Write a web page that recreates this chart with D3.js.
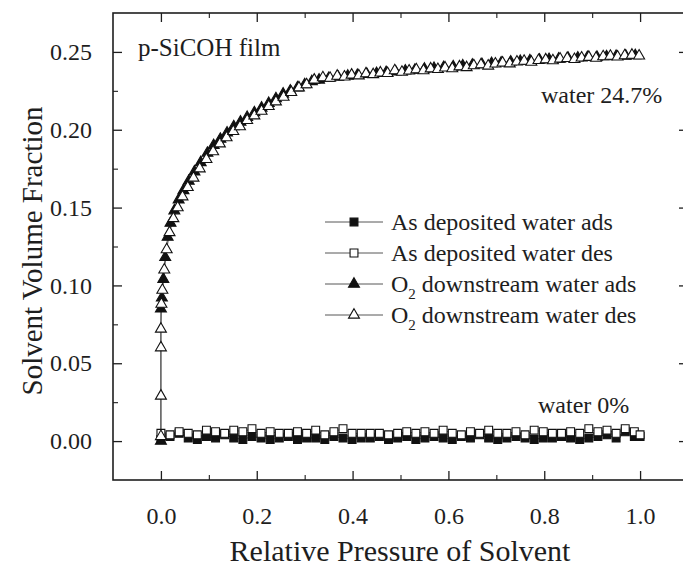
<!DOCTYPE html>
<html>
<head>
<meta charset="utf-8">
<script src="https://cdn.jsdelivr.net/npm/d3@7"></script>
<style>
  html, body { margin: 0; padding: 0; background: #fff; }
  svg { display: block; }
  text { font-family: "Liberation Serif", "Times New Roman", serif; fill: #1e1e1e; }
</style>
</head>
<body>
<svg id="chart" width="683" height="570"></svg>
<script>
// Water uptake isotherms of a porous SiCOH film (ellipsometric porosimetry)

// O2 downstream treated film, adsorption branch
const o2AdsPressure = [0.000, 0.000, 0.002, 0.005, 0.009, 0.014, 0.020, 0.028, 0.037, 0.047,
  0.058, 0.070, 0.083, 0.097, 0.110, 0.124, 0.138, 0.152, 0.166, 0.180,
  0.195, 0.210, 0.225, 0.240, 0.255, 0.270, 0.285, 0.300, 0.315, 0.330,
  0.350, 0.370, 0.390, 0.410, 0.430, 0.450, 0.470, 0.490, 0.510, 0.530,
  0.550, 0.570, 0.590, 0.610, 0.630, 0.650, 0.670, 0.690, 0.710, 0.730,
  0.750, 0.770, 0.790, 0.810, 0.830, 0.850, 0.870, 0.890, 0.910, 0.930,
  0.950, 0.970, 0.990];
const o2AdsFraction = [0.000, 0.085, 0.092, 0.104, 0.118, 0.131, 0.140, 0.148, 0.155, 0.161,
  0.167, 0.173, 0.179, 0.185, 0.190, 0.194, 0.198, 0.202, 0.205, 0.208,
  0.211, 0.214, 0.217, 0.220, 0.223, 0.225, 0.227, 0.229, 0.231, 0.232,
  0.2330, 0.2338, 0.2345, 0.2350, 0.2356, 0.2362, 0.2368, 0.2372, 0.2378, 0.2383,
  0.2390, 0.2395, 0.2401, 0.2405, 0.2411, 0.2416, 0.2420, 0.2426, 0.2430, 0.2436,
  0.2440, 0.2444, 0.2449, 0.2452, 0.2455, 0.2459, 0.2462, 0.2465, 0.2467, 0.2470,
  0.2472, 0.2474, 0.2477];

// O2 downstream treated film, desorption branch
const o2DesPressure = [0.000, 0.000, 0.000, 0.000, 0.001, 0.003, 0.007, 0.012, 0.018, 0.026,
  0.035, 0.045, 0.056, 0.068, 0.081, 0.095, 0.109, 0.123, 0.137, 0.151,
  0.165, 0.180, 0.195, 0.210, 0.225, 0.240, 0.256, 0.272, 0.288, 0.304,
  0.320, 0.338, 0.353, 0.368, 0.383, 0.398, 0.413, 0.428, 0.443, 0.458,
  0.473, 0.488, 0.503, 0.518, 0.533, 0.548, 0.563, 0.578, 0.593, 0.608,
  0.623, 0.638, 0.653, 0.668, 0.683, 0.698, 0.713, 0.728, 0.743, 0.758,
  0.773, 0.788, 0.803, 0.818, 0.833, 0.848, 0.863, 0.878, 0.893, 0.908,
  0.923, 0.938, 0.953, 0.968, 0.983, 0.998];
const o2DesFraction = [0.003, 0.029, 0.060, 0.072, 0.088, 0.097, 0.110, 0.123, 0.134, 0.143,
  0.150, 0.157, 0.163, 0.169, 0.175, 0.181, 0.186, 0.191, 0.195, 0.199,
  0.202, 0.206, 0.209, 0.212, 0.215, 0.218, 0.221, 0.224, 0.227, 0.229,
  0.232, 0.2335, 0.2332, 0.2345, 0.2340, 0.2352, 0.2347, 0.2360, 0.2355, 0.2366,
  0.2362, 0.2380, 0.2370, 0.2378, 0.2386, 0.2380, 0.2392, 0.2388, 0.2398, 0.2393,
  0.2405, 0.2400, 0.2412, 0.2418, 0.2410, 0.2423, 0.2430, 0.2424, 0.2436, 0.2441,
  0.2435, 0.2446, 0.2450, 0.2444, 0.2455, 0.2459, 0.2452, 0.2462, 0.2466, 0.2460,
  0.2470, 0.2473, 0.2468, 0.2476, 0.2480, 0.2475];

// As deposited film, both branches share the pressure steps
const asDepPressure = [0.000, 0.019, 0.038, 0.057, 0.076, 0.095, 0.114, 0.133, 0.152, 0.171,
  0.190, 0.209, 0.228, 0.247, 0.266, 0.285, 0.304, 0.323, 0.342, 0.361,
  0.380, 0.399, 0.418, 0.437, 0.456, 0.475, 0.494, 0.513, 0.532, 0.551,
  0.570, 0.589, 0.608, 0.627, 0.646, 0.665, 0.684, 0.703, 0.722, 0.741,
  0.760, 0.779, 0.798, 0.817, 0.836, 0.855, 0.874, 0.893, 0.912, 0.931,
  0.950, 0.969, 0.988, 1.000];
const asDepAdsFraction = [0.001, 0.003, 0.005, 0.002, 0.001, 0.003, 0.002, 0.004, 0.002, 0.001,
  0.003, 0.002, 0.001, 0.002, 0.003, 0.001, 0.002, 0.002, 0.001, 0.003,
  0.002, 0.001, 0.002, 0.002, 0.003, 0.001, 0.002, 0.003, 0.001, 0.002,
  0.003, 0.002, 0.001, 0.003, 0.002, 0.004, 0.002, 0.001, 0.002, 0.003,
  0.002, 0.001, 0.002, 0.002, 0.003, 0.002, 0.001, 0.002, 0.003, 0.004,
  0.002, 0.006, 0.003, 0.003];
const asDepDesFraction = [0.005, 0.004, 0.006, 0.005, 0.004, 0.007, 0.006, 0.005, 0.007, 0.006,
  0.008, 0.005, 0.006, 0.005, 0.005, 0.006, 0.005, 0.007, 0.004, 0.006,
  0.008, 0.005, 0.005, 0.005, 0.005, 0.004, 0.005, 0.006, 0.005, 0.006,
  0.005, 0.007, 0.005, 0.004, 0.006, 0.005, 0.007, 0.005, 0.005, 0.006,
  0.004, 0.007, 0.006, 0.005, 0.005, 0.006, 0.005, 0.008, 0.006, 0.007,
  0.005, 0.008, 0.006, 0.004];

// Axis ticks
const xTicks = [0.0, 0.2, 0.4, 0.6, 0.8, 1.0];
const xMinorTicks = [0.1, 0.3, 0.5, 0.7, 0.9];
const yTicks = [0.00, 0.05, 0.10, 0.15, 0.20, 0.25];
const yMinorTicks = [0.025, 0.075, 0.125, 0.175, 0.225];

const seriesNames = ["As deposited water ads", "As deposited water des",
  "O2 downstream water ads", "O2 downstream water des"];

const series = [
  { name: seriesNames[0], x: asDepPressure, y: asDepAdsFraction, shape: "square", filled: true },
  { name: seriesNames[1], x: asDepPressure, y: asDepDesFraction, shape: "square", filled: false },
  { name: seriesNames[2], x: o2AdsPressure, y: o2AdsFraction, shape: "triangle", filled: true },
  { name: seriesNames[3], x: o2DesPressure, y: o2DesFraction, shape: "triangle", filled: false }
];

const ink = "#1e1e1e";
const serif = '"Liberation Serif", "Times New Roman", serif';
const svg = d3.select("#chart");
const plotLeft = 113, plotRight = 688, plotTop = 13, plotBottom = 480;

const x = d3.scaleLinear().domain([-0.1, 1.1]).range([plotLeft, plotRight]);
const y = d3.scaleLinear().domain([-0.025, 0.275]).range([plotBottom, plotTop]);

const symbolFor = s => s.shape === "square"
  ? d3.symbol().type(d3.symbolSquare).size(62)
  : d3.symbol().type(d3.symbolTriangle).size(52);

// Axes with inward ticks on all four sides
const major = 9, minor = 5;
function drawAxis(axisGen, minorGen, transform, labelled) {
  const g = svg.append("g").attr("transform", transform).call(axisGen);
  g.select(".domain").remove();
  g.selectAll(".tick line").attr("stroke", ink).attr("stroke-width", 1.3);
  if (!labelled) g.selectAll(".tick text").remove();
  const m = svg.append("g").attr("transform", transform).call(minorGen);
  m.select(".domain").remove();
  m.selectAll(".tick text").remove();
  m.selectAll(".tick line").attr("stroke", ink).attr("stroke-width", 1.1);
  return g;
}

const bottomAxis = drawAxis(
  d3.axisBottom(x).tickValues(xTicks).tickSize(-major).tickPadding(major + 18).tickFormat(d3.format(".1f")),
  d3.axisBottom(x).tickValues(xMinorTicks).tickSize(-minor),
  `translate(0,${plotBottom})`, true);
bottomAxis.selectAll(".tick text").attr("font-size", 24).attr("fill", ink).style("font-family", serif);

drawAxis(
  d3.axisTop(x).tickValues(xTicks).tickSize(-major),
  d3.axisTop(x).tickValues(xMinorTicks).tickSize(-minor),
  `translate(0,${plotTop})`, false);

const leftAxis = drawAxis(
  d3.axisLeft(y).tickValues(yTicks).tickSize(-major).tickPadding(major + 12).tickFormat(d3.format(".2f")),
  d3.axisLeft(y).tickValues(yMinorTicks).tickSize(-minor),
  `translate(${plotLeft},0)`, true);
leftAxis.selectAll(".tick text").attr("font-size", 24).attr("fill", ink).style("font-family", serif);

drawAxis(
  d3.axisRight(y).tickValues(yTicks).tickSize(-major),
  d3.axisRight(y).tickValues(yMinorTicks).tickSize(-minor),
  `translate(${plotRight},0)`, false);

// Frame
svg.append("rect")
  .attr("x", plotLeft).attr("y", plotTop)
  .attr("width", plotRight - plotLeft).attr("height", plotBottom - plotTop)
  .attr("fill", "none").attr("stroke", ink).attr("stroke-width", 1.6);

// Series: connecting lines, then markers
const plot = svg.append("g");
const line = d3.line().x(d => x(d[0])).y(d => y(d[1]));

series.forEach(s => {
  const pts = s.x.map((v, i) => [v, s.y[i]]);
  plot.append("path").datum(pts)
    .attr("d", line).attr("fill", "none")
    .attr("stroke", "#444").attr("stroke-width", 0.9);
});

series.forEach(s => {
  const pts = s.x.map((v, i) => [v, s.y[i]]);
  plot.append("g").selectAll("path").data(pts).join("path")
    .attr("d", symbolFor(s)())
    .attr("transform", d => `translate(${x(d[0])},${y(d[1])})`)
    .attr("fill", s.filled ? "#111" : "#fff")
    .attr("stroke", "#111").attr("stroke-width", 1.1);
});

// Axis titles
svg.append("text")
  .attr("x", 400).attr("y", 561)
  .attr("text-anchor", "middle").attr("font-size", 30)
  .text("Relative Pressure of Solvent");

svg.append("text")
  .attr("transform", `translate(42,251) rotate(-90)`)
  .attr("text-anchor", "middle").attr("font-size", 29)
  .text("Solvent Volume Fraction");

// Annotations
svg.append("text").attr("x", 138).attr("y", 56).attr("font-size", 25).text("p-SiCOH film");
svg.append("text").attr("x", 541).attr("y", 103).attr("font-size", 24).text("water 24.7%");
svg.append("text").attr("x", 538).attr("y", 413).attr("font-size", 24).text("water 0%");

// Legend
const legendX = 325, legendY0 = 222, legendStep = 31;
series.forEach((s, i) => {
  const ly = legendY0 + i * legendStep;
  const g = svg.append("g");
  g.append("line").attr("x1", legendX).attr("x2", legendX + 58)
    .attr("y1", ly).attr("y2", ly).attr("stroke", "#444").attr("stroke-width", 0.9);
  g.append("path").attr("d", symbolFor(s)())
    .attr("transform", `translate(${legendX + 29},${ly})`)
    .attr("fill", s.filled ? "#111" : "#fff")
    .attr("stroke", "#111").attr("stroke-width", 1.1);
  const t = g.append("text").attr("x", legendX + 66).attr("y", ly + 8).attr("font-size", 24);
  if (s.name.startsWith("O2")) {
    t.append("tspan").text("O");
    t.append("tspan").attr("font-size", 15).attr("dy", 7).text("2");
    t.append("tspan").attr("dy", -7).text(s.name.slice(2));
  } else {
    t.text(s.name);
  }
});
</script>
</body>
</html>
